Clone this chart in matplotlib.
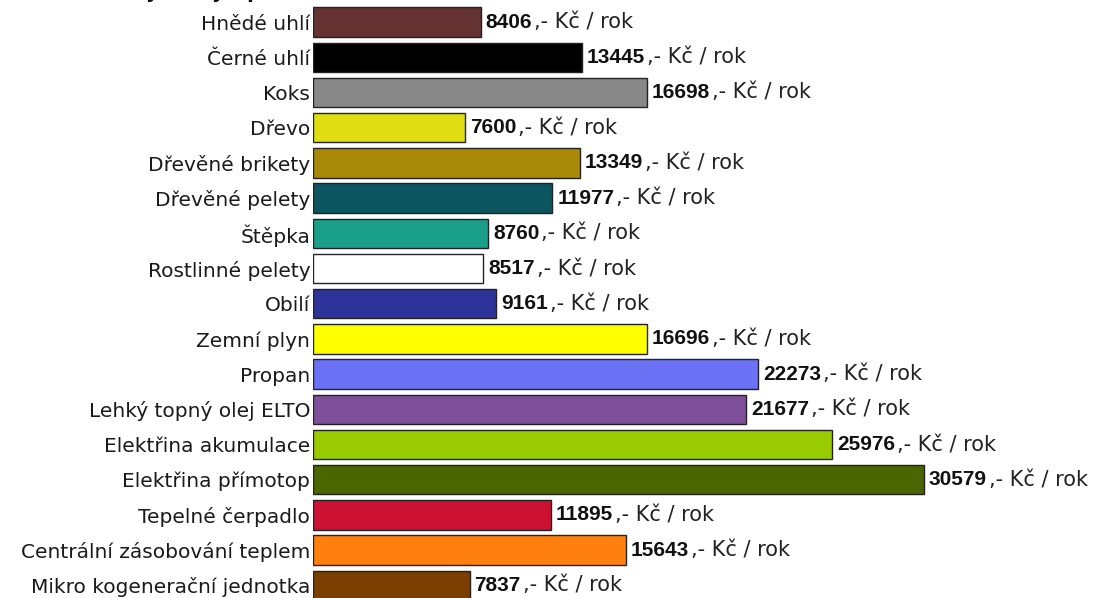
import matplotlib.pyplot as plt

categories = [
    "Hnědé uhlí", "Černé uhlí", "Koks", "Dřevo", "Dřevěné brikety",
    "Dřevěné pelety", "Štěpka", "Rostlinné pelety", "Obilí", "Zemní plyn",
    "Propan", "Lehký topný olej ELTO", "Elektřina akumulace",
    "Elektřina přímotop", "Tepelné čerpadlo", "Centrální zásobování teplem",
    "Mikro kogenerační jednotka",
]
values = [8406, 13445, 16698, 7600, 13349, 11977, 8760, 8517, 9161, 16696,
          22273, 21677, 25976, 30579, 11895, 15643, 7837]
colors = ["#663333", "#000000", "#888888", "#dede10", "#a88a08", "#0b5560",
          "#1aa08a", "#ffffff", "#2e3399", "#ffff00", "#6b72f5", "#7f4f99",
          "#99cc00", "#4a6600", "#cc1133", "#ff7f0f", "#7a3f00"]

plt.rcParams['font.family'] = ['DejaVu Sans']

W, H = 1109, 598
fig = plt.figure(figsize=(W / 100, H / 100), dpi=100)
left = 313
top = 4.5
pitch = 35.2
n = len(categories)
ax_h = pitch * n
ax = fig.add_axes([left / W, (H - top - ax_h) / H, (W - left) / W, ax_h / H])

px_per_unit = (924 - left) / 30579
xmax = (W - left) / px_per_unit

ypos = list(range(n))
ax.barh(ypos, values, height=0.84, color=colors, edgecolor="#222222", linewidth=1.0)
ax.set_xlim(0, xmax)
ax.set_ylim(n - 0.5, -0.5)
ax.set_yticks(ypos)
ax.set_yticklabels(categories, fontsize=14.5, color="#1a1a1a")
ax.tick_params(axis='y', length=0, pad=2)
ax.set_xticks([])
for s in ax.spines.values():
    s.set_visible(False)

for y, v in zip(ypos, values):
    t = ax.annotate(f"{v}", (v, y), xytext=(3.5, 0), textcoords="offset points",
                    va="center", ha="left", fontsize=15, fontweight="bold",
                    family="Liberation Sans", color="#111111")
    ax.annotate(",- Kč / rok", xy=(1, 0.5), xycoords=t, xytext=(1.5, 0),
                textcoords="offset points", va="center", ha="left",
                fontsize=15, color="#222222")

fig.text(150 / W, 1 + 2 / H, "Roční náklady na vytápění", ha="center",
         va="baseline", fontsize=14, fontweight="bold", color="#111111")

fig.savefig("out.png", dpi=100)
